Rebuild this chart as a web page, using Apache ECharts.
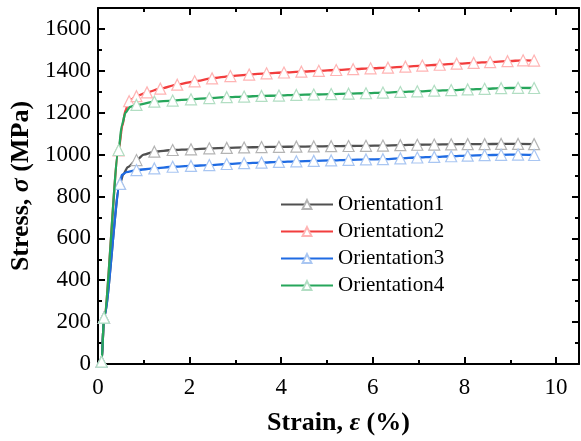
<!DOCTYPE html>
<html><head><meta charset="utf-8">
<script src="https://cdn.jsdelivr.net/npm/echarts@6/dist/echarts.min.js"></script>
<style>html,body{margin:0;padding:0;background:#fff}#c{width:581px;height:441px}</style>
</head><body><div id="c"></div>
<script>
// ---- data ----
const seriesNames = ['Orientation1', 'Orientation2', 'Orientation3', 'Orientation4'];
const xTickLabels = [0, 2, 4, 6, 8, 10];
const yTickLabels = [0, 200, 400, 600, 800, 1000, 1200, 1400, 1600];

// Orientation1
const strain1 = [0, 0.08, 0.13, 0.48, 0.55, 0.65, 0.84, 1.0, 1.23, 1.63, 2.03, 2.43, 2.81, 3.19, 3.57, 3.95, 4.33, 4.71, 5.09, 5.47, 5.85, 6.22, 6.60, 6.97, 7.34, 7.71, 8.07, 8.44, 8.80, 9.17, 9.52];
const stress1 = [0, 11, 221, 860, 905, 940, 974, 1000, 1014, 1022, 1025, 1030, 1032, 1034, 1036, 1037, 1038, 1039, 1040, 1041, 1042, 1043, 1045, 1047, 1048, 1049, 1050, 1050, 1051, 1051, 1050];
const knots1 = [0, 4, 5, 7];
// Orientation2
const strain2 = [0, 0.08, 0.13, 0.45, 0.53, 0.60, 0.68, 0.84, 1.07, 1.36, 1.73, 2.11, 2.49, 2.89, 3.30, 3.68, 4.06, 4.44, 4.82, 5.20, 5.57, 5.95, 6.33, 6.71, 7.08, 7.46, 7.83, 8.20, 8.56, 8.94, 9.28, 9.52];
const stress2 = [0, 11, 221, 1020, 1135, 1212, 1255, 1279, 1297, 1315, 1334, 1350, 1364, 1375, 1382, 1388, 1392, 1396, 1400, 1404, 1408, 1412, 1415, 1420, 1425, 1429, 1434, 1438, 1442, 1446, 1450, 1449];
const knots2 = [0, 4, 5];
// Orientation3
const strain3 = [0, 0.08, 0.13, 0.48, 0.52, 0.62, 0.84, 1.23, 1.63, 2.03, 2.43, 2.81, 3.19, 3.57, 3.95, 4.33, 4.71, 5.09, 5.47, 5.85, 6.22, 6.60, 6.97, 7.34, 7.71, 8.07, 8.44, 8.80, 9.17, 9.52];
const stress3 = [0, 11, 221, 860, 903, 916, 926, 934, 942, 946, 950, 955, 959, 962, 965, 968, 970, 972, 975, 977, 978, 982, 986, 989, 992, 995, 997, 999, 1000, 998];
const knots3 = [0, 4, 5];
// Orientation4
const strain4 = [0, 0.08, 0.13, 0.45, 0.52, 0.60, 0.70, 0.84, 1.23, 1.63, 2.03, 2.43, 2.81, 3.19, 3.57, 3.95, 4.33, 4.71, 5.09, 5.47, 5.85, 6.22, 6.60, 6.97, 7.34, 7.71, 8.07, 8.44, 8.80, 9.17, 9.52];
const stress4 = [0, 11, 221, 1022, 1140, 1200, 1228, 1237, 1253, 1258, 1264, 1270, 1274, 1277, 1280, 1282, 1285, 1287, 1289, 1291, 1293, 1296, 1299, 1302, 1305, 1308, 1311, 1314, 1317, 1319, 1318];
const knots4 = [0, 4, 5, 6];

const strains = [strain1, strain2, strain3, strain4];
const stresses = [stress1, stress2, stress3, stress4];
const knots = [knots1, knots2, knots3, knots4];
const lineColors = ['#505050', '#f23d3d', '#1f6be3', '#26a65b'];
const markColors = ['#b4b4b4', '#ffb4b4', '#a9c6f2', '#b2dec3'];

const FONT = '"Liberation Serif", "Times New Roman", serif';

function buildData(i) {
  return strains[i].map((x, k) => {
    const item = { value: [x, stresses[i][k]] };
    if (knots[i].indexOf(k) >= 0) item.symbol = 'none';
    return item;
  });
}

function xAx(pos, interval, tickLen, labels, line) {
  return {
    type: 'value', position: pos, min: 0, max: 10.5, interval: interval,
    axisLine: { show: line, onZero: false, lineStyle: { color: '#000', width: 2 } },
    axisTick: { show: true, inside: true, length: tickLen, lineStyle: { color: '#000', width: 2 } },
    axisLabel: {
      show: labels, color: '#000', fontFamily: FONT, fontSize: 23, margin: 12,
      formatter: v => (xTickLabels.indexOf(v) >= 0 ? String(v) : '')
    },
    splitLine: { show: false }
  };
}
function yAx(pos, interval, tickLen, labels, line) {
  return {
    type: 'value', position: pos, min: 0, max: 1700, interval: interval,
    axisLine: { show: line, onZero: false, lineStyle: { color: '#000', width: 2 } },
    axisTick: { show: true, inside: true, length: tickLen, lineStyle: { color: '#000', width: 2 } },
    axisLabel: {
      show: labels, color: '#000', fontFamily: FONT, fontSize: 23, margin: 7,
      formatter: v => (yTickLabels.indexOf(v) >= 0 ? String(v) : '')
    },
    splitLine: { show: false }
  };
}

const nameRich = {
  b: { fontFamily: FONT, fontSize: 26, fontWeight: 'bold', color: '#000' },
  i: { fontFamily: FONT, fontSize: 26, fontStyle: 'italic', fontWeight: 'bold', color: '#000' }
};

const xMain = xAx('bottom', 2, 7, true, true);
xMain.name = '{b|Strain, }{i|ε}{b| (%)}';
xMain.nameLocation = 'middle';
xMain.nameGap = 46;
xMain.nameTextStyle = { rich: nameRich };

const yMain = yAx('left', 200, 7, true, true);
yMain.name = '{b|Stress, }{i|σ}{b| (MPa)}';
yMain.nameLocation = 'middle';
yMain.nameGap = 61;
yMain.nameTextStyle = { rich: nameRich };

const option = {
  animation: false,
  backgroundColor: '#fff',
  grid: { left: 98, right: 2, top: 8, bottom: 77, outerBoundsMode: 'none', containLabel: false },
  xAxis: [
    xMain,
    xAx('bottom', 1, 4, false, false),
    xAx('top', 2, 7, false, true),
    xAx('top', 1, 4, false, false)
  ],
  yAxis: [
    yMain,
    yAx('left', 100, 4, false, false),
    yAx('right', 200, 7, false, true),
    yAx('right', 100, 4, false, false)
  ],
  legend: {
    orient: 'vertical', left: 275, top: 189,
    itemWidth: 52, itemHeight: 11, itemGap: 6,
    textStyle: { fontFamily: FONT, fontSize: 21, color: '#000' },
    data: seriesNames
  },
  series: seriesNames.map((name, i) => ({
    name: name, type: 'line', xAxisIndex: 0, yAxisIndex: 0,
    data: buildData(i),
    smooth: 0.25, smoothMonotone: 'x',
    symbol: 'triangle', symbolSize: 11, showAllSymbol: true,
    lineStyle: { color: lineColors[i], width: 2.3 },
    itemStyle: { color: '#fff', borderColor: markColors[i], borderWidth: 1.2 },
    emphasis: { disabled: true },
    z: 2 + i
  }))
};

const chart = echarts.init(document.getElementById('c'), null, { renderer: 'canvas' });
chart.setOption(option);
</script>
</body></html>
